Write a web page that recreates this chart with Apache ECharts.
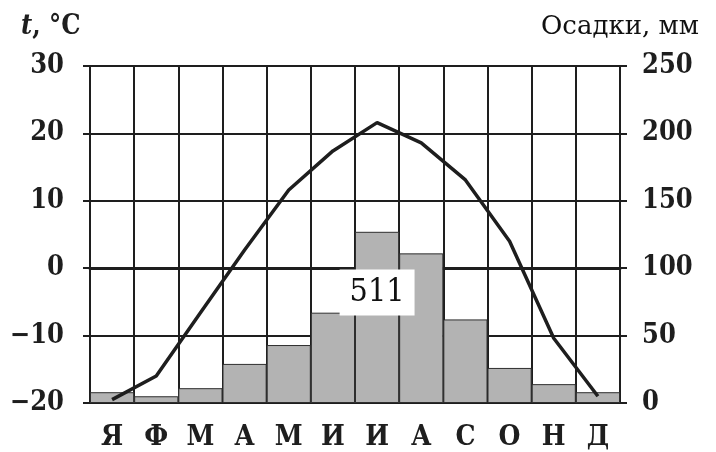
<!DOCTYPE html>
<html>
<head>
<meta charset="utf-8">
<script src="https://cdn.jsdelivr.net/npm/echarts@6/dist/echarts.min.js"></script>
<style>
  html, body { margin: 0; padding: 0; background: #fff; }
  #chart { width: 716px; height: 452px; }
</style>
</head>
<body>
<div id="chart"></div>
<script>
// months (Russian initials)
const months = ['Я', 'Ф', 'М', 'А', 'М', 'И', 'И', 'А', 'С', 'О', 'Н', 'Д'];
// mean monthly temperature, °C (left axis)
const temperature = [-19.5, -16, -6.6, 2.7, 11.6, 17.4, 21.6, 18.6, 13.1, 4, -10.4, -19];
// monthly precipitation, mm (right axis)
const precipitation = [8, 5, 11, 29, 43, 67, 127, 111, 62, 26, 14, 8];
// axis ranges
const tempTicks = { min: -20, max: 30, interval: 10 };
const precTicks = { min: 0, max: 250, interval: 50 };

const annualTotal = precipitation.reduce((a, b) => a + b, 0);

const ink = '#1e1e1e';
const serif = '"DejaVu Serif Condensed", "DejaVu Serif", serif';

const chart = echarts.init(document.getElementById('chart'));

const option = {
    animation: false,
    backgroundColor: '#fff',
    title: [{
        text: '{i|t}, °C',
        left: 16,
        top: 8,
        textStyle: {
            rich: {
                i: { fontFamily: serif, fontStyle: 'italic', fontWeight: 'bold', fontSize: 27, color: ink }
            },
            fontFamily: serif,
            fontWeight: 'bold',
            fontSize: 27,
            color: ink
        }
    }, {
        text: 'Осадки, мм',
        right: 12,
        top: 9,
        textStyle: {
            fontFamily: '"DejaVu Serif", serif',
            fontWeight: 'normal',
            fontSize: 26,
            color: '#111'
        }
    }],
    grid: {
        left: 90,
        right: 96,
        top: 66,
        bottom: 49
    },
    xAxis: {
        type: 'category',
        data: months,
        boundaryGap: true,
        axisTick: { show: false },
        axisLine: {
            show: true,
            lineStyle: { color: ink, width: 3 }
        },
        axisLabel: {
            fontFamily: serif,
            fontWeight: 'bold',
            fontSize: 28,
            color: ink,
            margin: 21,
            interval: 0
        },
        splitLine: {
            show: true,
            interval: 0,
            lineStyle: { color: ink, width: 2 }
        }
    },
    yAxis: [{
        type: 'value',
        position: 'left',
        min: tempTicks.min,
        max: tempTicks.max,
        interval: tempTicks.interval,
        axisLine: {
            show: true,
            lineStyle: { color: ink, width: 2 }
        },
        axisTick: {
            show: true,
            length: 7,
            lineStyle: { color: ink, width: 2 }
        },
        axisLabel: {
            fontFamily: serif,
            fontWeight: 'bold',
            fontSize: 27,
            color: ink,
            margin: 26,
            formatter: v => (v < 0 ? '\u2212' + Math.abs(v) : String(v))
        },
        splitLine: {
            show: true,
            lineStyle: { color: ink, width: 2 }
        }
    }, {
        type: 'value',
        position: 'right',
        min: precTicks.min,
        max: precTicks.max,
        interval: precTicks.interval,
        axisLine: {
            show: true,
            lineStyle: { color: ink, width: 2 }
        },
        axisTick: {
            show: true,
            length: 7,
            lineStyle: { color: ink, width: 2 }
        },
        axisLabel: {
            fontFamily: serif,
            fontWeight: 'bold',
            fontSize: 27,
            color: ink,
            margin: 22
        },
        splitLine: { show: false }
    }],
    series: [{
        name: 'Осадки',
        type: 'bar',
        yAxisIndex: 1,
        data: precipitation,
        barWidth: '100%',
        barGap: '0%',
        itemStyle: {
            color: '#b3b3b3',
            borderColor: '#2e2e2e',
            borderWidth: 1
        },
        z: 2,
        markPoint: {
            symbol: 'rect',
            symbolSize: 0,
            data: [{ coord: [6, 82], value: annualTotal }],
            label: {
                show: true,
                position: 'inside',
                formatter: '{c}',
                fontFamily: serif,
                fontWeight: 'normal',
                fontSize: 32,
                color: '#111',
                backgroundColor: '#fff',
                padding: [8, 10, 6, 10]
            }
        }
    }, {
        name: 't',
        type: 'line',
        yAxisIndex: 0,
        data: temperature,
        showSymbol: false,
        lineStyle: { color: ink, width: 3.5 },
        z: 5
    }]
};

chart.setOption(option);
</script>
</body>
</html>
